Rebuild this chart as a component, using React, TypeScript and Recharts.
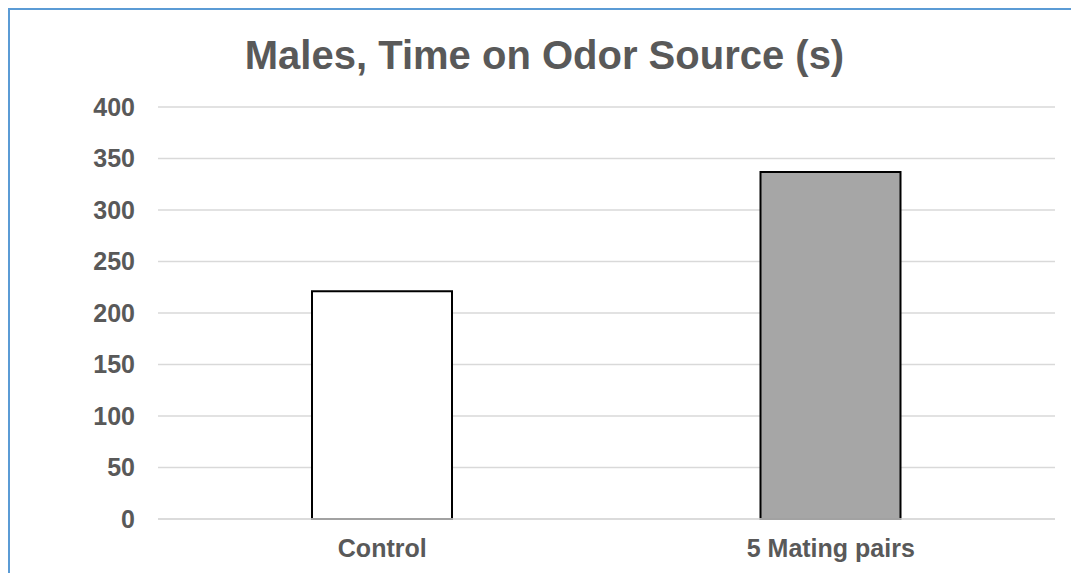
import React from "react";
import { BarChart, Bar, XAxis, YAxis, CartesianGrid, Cell } from "recharts";

const categories = ["Control", "5 Mating pairs"];
const timeOnSource = [221, 337];
const yTicks = [0, 50, 100, 150, 200, 250, 300, 350, 400];
const barFills = ["#ffffff", "#a6a6a6"];
const titleText = "Males, Time on Odor Source (s)";

const data = categories.map((c, i) => ({ name: c, value: timeOnSource[i] }));

const FONT = "'Liberation Sans', Arial, sans-serif";

export default function App() {
  return (
    <div
      style={{
        position: "relative",
        width: 1069,
        height: 563,
        borderTop: "2px solid #5b9bd5",
        borderLeft: "2px solid #5b9bd5",
        background: "#ffffff",
        fontFamily: FONT,
      }}
    >
      <div
        style={{
          position: "absolute",
          left: 0,
          width: 1069,
          top: 22,
          textAlign: "center",
          fontSize: 40,
          fontWeight: "bold",
          color: "#595959",
          fontFamily: FONT,
          lineHeight: "46px",
        }}
      >
        {titleText}
      </div>
      <BarChart
        width={1069}
        height={563}
        data={data}
        margin={{ top: 97, right: 24, bottom: 0, left: 0 }}
        barSize={140}
      >
        <CartesianGrid vertical={false} stroke="#d9d9d9" strokeWidth={1.3} />
        <XAxis
          dataKey="name"
          height={54}
          axisLine={{ stroke: "#d9d9d9", strokeWidth: 1.3 }}
          tickLine={false}
          tickSize={0}
          tickMargin={20}
          tick={{ fill: "#595959", fontSize: 25, fontWeight: "bold", fontFamily: FONT }}
        />
        <YAxis
          width={148}
          domain={[0, 400]}
          ticks={yTicks}
          axisLine={false}
          tickLine={false}
          tickSize={0}
          tickMargin={23}
          interval={0}
          tick={{ fill: "#595959", fontSize: 25, fontWeight: "bold", fontFamily: FONT }}
        />
        <Bar dataKey="value" stroke="#000000" strokeWidth={2} isAnimationActive={false}>
          {data.map((d, i) => (
            <Cell key={d.name} fill={barFills[i]} />
          ))}
        </Bar>
      </BarChart>
    </div>
  );
}
